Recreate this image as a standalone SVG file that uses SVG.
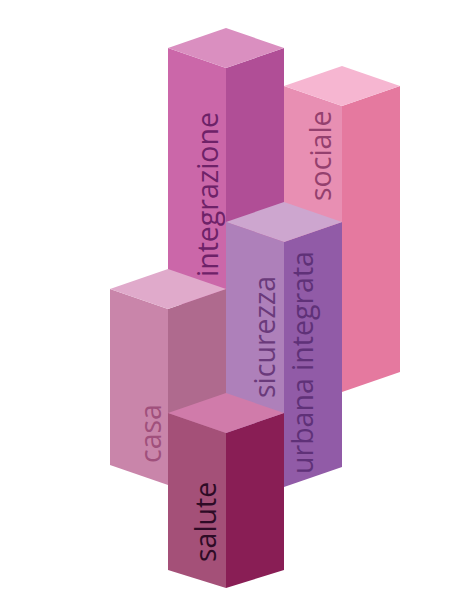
<svg xmlns="http://www.w3.org/2000/svg" width="476" height="593" viewBox="0 0 476 593">
<style>
text{font-family:"Open Sans","Noto Sans","Liberation Sans",sans-serif;font-size:28.5px}
</style>
<rect width="476" height="593" fill="#ffffff"/>
<g id="integrazione">
<polygon points="168,48 226,68 226,320 168,300" fill="#CB67A9"/>
<polygon points="226,68 284,48 284,300 226,320" fill="#B04E96"/>
<polygon points="226,28 284,48 226,68 168,48" fill="#DA8FC0"/>
<text transform="translate(218,277) rotate(-90)" fill="#6E2268">integrazione</text>
</g>
<g id="sociale">
<polygon points="284,86 342,106 342,392 284,372" fill="#E88FB3"/>
<polygon points="342,106 400,86 400,372 342,392" fill="#E5799F"/>
<polygon points="342,66 400,86 342,106 284,86" fill="#F6B6D1"/>
<text transform="translate(331,201) rotate(-90)" fill="#94406E">sociale</text>
</g>
<g id="casa">
<polygon points="110,289 168,309 168,485 110,465" fill="#C985AA"/>
<polygon points="168,309 226,289 226,465 168,485" fill="#AF6A8E"/>
<polygon points="168,269 226,289 168,309 110,289" fill="#E0AACB"/>
<text transform="translate(161,463) rotate(-90)" fill="#A0507C">casa</text>
</g>
<g id="sicurezza">
<polygon points="226,222 284,242 284,487 226,467" fill="#AE80BA"/>
<polygon points="284,242 342,222 342,467 284,487" fill="#915BA7"/>
<polygon points="284,202 342,222 284,242 226,222" fill="#CDA6CF"/>
<text transform="translate(275,398) rotate(-90)" fill="#6A3A7B">sicurezza</text>
<text transform="translate(313,474) rotate(-90)" fill="#5F3178">urbana integrata</text>
</g>
<g id="salute">
<polygon points="168,413 226,433 226,588 168,570" fill="#A45078"/>
<polygon points="226,433 284,413 284,570 226,588" fill="#891E55"/>
<polygon points="226,393 284,413 226,433 168,413" fill="#D07BAA"/>
<text transform="translate(216,562) rotate(-90)" fill="#2E0B26">salute</text>
</g>
<g id="connectors"/>
</svg>
